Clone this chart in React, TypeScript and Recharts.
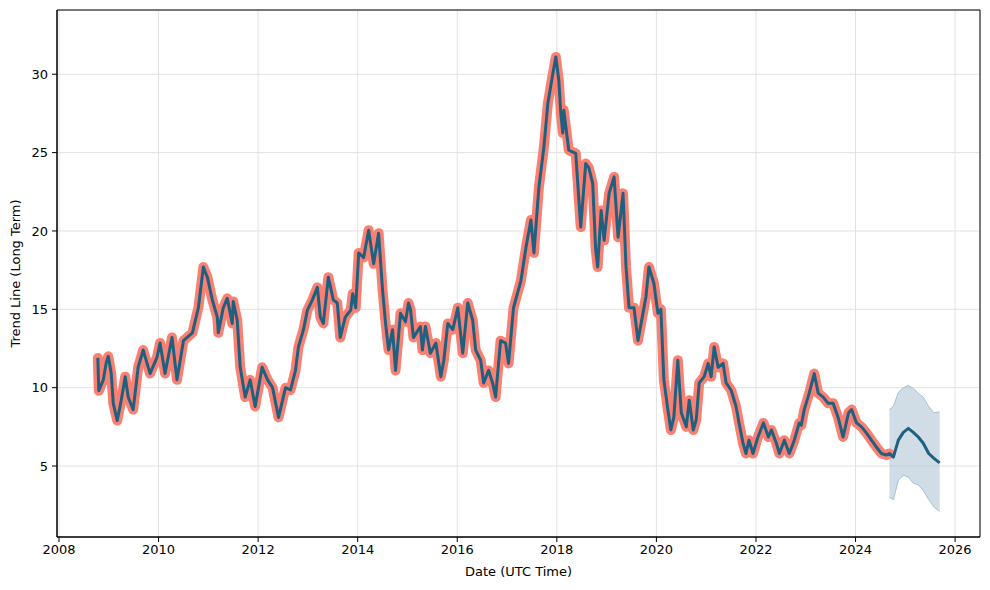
import React from 'react';
import {
  ComposedChart, Line, Area, XAxis, YAxis, CartesianGrid, ReferenceArea, Label,
} from 'recharts';

// history (decimal year, observed value)
const histDates = [
  2008.78, 2008.8, 2008.89, 2008.95, 2008.99, 2009.05, 2009.09, 2009.17, 2009.25, 2009.33,
  2009.39, 2009.49, 2009.59, 2009.69, 2009.83, 2009.97, 2010.03, 2010.13, 2010.27, 2010.37,
  2010.5, 2010.68, 2010.8, 2010.9, 2010.98, 2011.08, 2011.18, 2011.2, 2011.3, 2011.38,
  2011.48, 2011.5, 2011.58, 2011.64, 2011.74, 2011.84, 2011.94, 2012.08, 2012.19, 2012.29,
  2012.41, 2012.55, 2012.65, 2012.75, 2012.81, 2012.91, 2012.99, 2013.09, 2013.19, 2013.25,
  2013.31, 2013.41, 2013.51, 2013.59, 2013.65, 2013.75, 2013.86, 2013.9, 2013.96, 2014.02,
  2014.12, 2014.22, 2014.32, 2014.42, 2014.5, 2014.56, 2014.62, 2014.7, 2014.76, 2014.86,
  2014.96, 2015.02, 2015.06, 2015.12, 2015.16, 2015.26, 2015.3, 2015.36, 2015.46, 2015.57,
  2015.67, 2015.73, 2015.81, 2015.91, 2016.01, 2016.11, 2016.21, 2016.31, 2016.37, 2016.47,
  2016.53, 2016.63, 2016.71, 2016.77, 2016.87, 2016.97, 2017.03, 2017.13, 2017.28, 2017.38,
  2017.48, 2017.54, 2017.64, 2017.74, 2017.82, 2017.92, 2017.98, 2018.04, 2018.08, 2018.12,
  2018.14, 2018.24, 2018.38, 2018.48, 2018.58, 2018.64, 2018.72, 2018.78, 2018.82, 2018.89,
  2018.95, 2019.05, 2019.15, 2019.23, 2019.33, 2019.39, 2019.45, 2019.55, 2019.63, 2019.73,
  2019.79, 2019.85, 2019.95, 2020.03, 2020.09, 2020.15, 2020.23, 2020.29, 2020.35, 2020.43,
  2020.5, 2020.6, 2020.66, 2020.74, 2020.8, 2020.86, 2020.96, 2021.04, 2021.1, 2021.16,
  2021.24, 2021.34, 2021.4, 2021.5, 2021.6, 2021.66, 2021.74, 2021.8, 2021.86, 2021.94,
  2022.04, 2022.15, 2022.25, 2022.31, 2022.41, 2022.47, 2022.57, 2022.67, 2022.77, 2022.87,
  2022.91, 2022.97, 2023.07, 2023.17, 2023.25, 2023.35, 2023.45, 2023.55, 2023.65, 2023.75,
  2023.86, 2023.92, 2024.02, 2024.12, 2024.22, 2024.32, 2024.42, 2024.52, 2024.62, 2024.68,
];
const histValues = [
  11.9, 9.8, 10.5, 11.6, 12.0, 10.9, 9.0, 7.9, 9.2, 10.7,
  9.4, 8.6, 11.3, 12.4, 10.9, 11.95, 12.85, 10.9, 13.2, 10.5,
  13.0, 13.5, 15.1, 17.7, 17.05, 15.6, 14.5, 13.5, 15.1, 15.7,
  14.1, 15.5, 14.3, 11.3, 9.4, 10.5, 8.8, 11.3, 10.5, 10.0,
  8.1, 10.0, 9.85, 11.1, 12.6, 13.7, 14.95, 15.6, 16.4, 14.5,
  14.1, 17.05, 15.6, 15.4, 13.2, 14.5, 14.95, 16.0, 15.1, 18.6,
  18.3, 20.05, 17.9, 19.85, 16.2, 14.1, 12.4, 13.7, 11.1, 14.75,
  14.2, 15.4, 15.0, 13.2, 13.4, 13.9, 12.4, 13.9, 12.2, 12.85,
  10.7, 11.75, 14.1, 13.7, 15.1, 12.2, 15.4, 14.3, 12.4, 11.75,
  10.3, 11.1, 10.3, 9.4, 13.0, 12.85, 11.55, 15.1, 16.85, 18.95,
  20.7, 18.6, 22.8, 25.35, 28.15, 30.05, 31.1, 29.6, 27.5, 26.25,
  27.7, 25.15, 24.95, 20.25, 24.3, 24.05, 23.05, 18.8, 17.7, 21.3,
  19.4, 22.4, 23.45, 19.6, 22.4, 17.7, 15.1, 15.1, 13.0, 14.75,
  15.8, 17.7, 16.65, 14.75, 15.0, 10.5, 8.6, 7.3, 8.1, 11.75,
  8.4, 7.5, 9.2, 7.3, 7.95, 10.3, 10.7, 11.55, 10.7, 12.6,
  11.3, 11.55, 10.3, 9.85, 8.8, 7.75, 6.45, 5.8, 6.65, 5.8,
  6.85, 7.75, 6.85, 7.3, 6.45, 5.8, 6.65, 5.8, 6.65, 7.75,
  7.6, 8.6, 9.65, 10.9, 9.65, 9.4, 9.0, 9.0, 8.1, 6.85,
  8.4, 8.6, 7.75, 7.5, 7.1, 6.65, 6.2, 5.8, 5.7, 5.8,
];

// forecast (decimal year, trend, lower, upper)
const fcDates = [2024.68, 2024.76, 2024.86, 2024.96, 2025.06, 2025.16, 2025.26, 2025.36, 2025.47, 2025.57, 2025.69];
const fcValues = [5.8, 5.57, 6.65, 7.15, 7.4, 7.15, 6.85, 6.45, 5.8, 5.5, 5.2];
const fcLower = [3.0, 2.85, 4.1, 4.4, 4.3, 3.9, 3.8, 3.45, 2.85, 2.4, 2.1];
const fcUpper = [8.6, 8.8, 9.7, 10.0, 10.15, 9.95, 9.65, 9.4, 8.8, 8.4, 8.45];

const xTicks = [2008, 2010, 2012, 2014, 2016, 2018, 2020, 2022, 2024, 2026];
const yTicks = [5, 10, 15, 20, 25, 30];

const X_DOMAIN = [2007.96, 2026.5];
const Y_DOMAIN = [0.47, 34.1];

const rows: any[] = histDates.map((t, i) => ({ t, actual: histValues[i], trend: histValues[i] }));
fcDates.forEach((t, i) => {
  if (i === 0) {
    rows[rows.length - 1].band = [fcLower[i], fcUpper[i]];
    return;
  }
  rows.push({ t, trend: fcValues[i], band: [fcLower[i], fcUpper[i]] });
});

const FONT = 'DejaVu Sans, sans-serif';
const tickStyle = { fontFamily: FONT, fontSize: 13, fill: '#000' };

export default function App() {
  return (
    <div style={{ position: 'fixed', left: 0, top: 0, background: '#fff' }}>
      <ComposedChart
        width={990}
        height={590}
        data={rows}
        margin={{ top: 10, right: 10, bottom: 0, left: 0 }}
      >
        <CartesianGrid stroke="#e2e2e2" strokeWidth={1} />
        <XAxis
          type="number"
          dataKey="t"
          domain={X_DOMAIN}
          ticks={xTicks}
          allowDataOverflow
          height={53}
          tick={tickStyle}
          tickSize={5}
          tickMargin={3}
          stroke="#000"
        >
          <Label
            content={({ viewBox }: any) => (
              <text
                x={viewBox.x + viewBox.width / 2}
                y={viewBox.y + 35}
                textAnchor="middle"
                dominantBaseline="middle"
                style={{ fontFamily: FONT, fontSize: 13 }}
              >
                Date (UTC Time)
              </text>
            )}
          />
        </XAxis>
        <YAxis
          type="number"
          domain={Y_DOMAIN}
          ticks={yTicks}
          allowDataOverflow
          width={57}
          tick={tickStyle}
          tickSize={5}
          tickMargin={4}
          stroke="#000"
        >
          <Label
            content={({ viewBox }: any) => {
              const x = viewBox.x + 16;
              const y = viewBox.y + viewBox.height / 2;
              return (
                <text
                  x={x}
                  y={y}
                  transform={`rotate(-90, ${x}, ${y})`}
                  textAnchor="middle"
                  dominantBaseline="middle"
                  style={{ fontFamily: FONT, fontSize: 13 }}
                >
                  Trend Line (Long Term)
                </text>
              );
            }}
          />
        </YAxis>
        <Area
          dataKey="band"
          type="linear"
          stroke="#a9c0d1"
          strokeWidth={1}
          fill="#a9c0d1"
          fillOpacity={0.55}
          isAnimationActive={false}
          dot={false}
          activeDot={false}
        />
        <Line
          dataKey="actual"
          type="linear"
          stroke="#fa8072"
          strokeWidth={10}
          strokeLinejoin="round"
          strokeLinecap="round"
          dot={false}
          activeDot={false}
          isAnimationActive={false}
        />
        <Line
          dataKey="trend"
          type="linear"
          stroke="#1f5f80"
          strokeWidth={3}
          strokeLinejoin="round"
          dot={false}
          activeDot={false}
          isAnimationActive={false}
        />
        <ReferenceArea
          x1={X_DOMAIN[0]}
          x2={X_DOMAIN[1]}
          y1={Y_DOMAIN[0]}
          y2={Y_DOMAIN[1]}
          fill="none"
          stroke="#000"
          strokeWidth={1}
        />
      </ComposedChart>
    </div>
  );
}
